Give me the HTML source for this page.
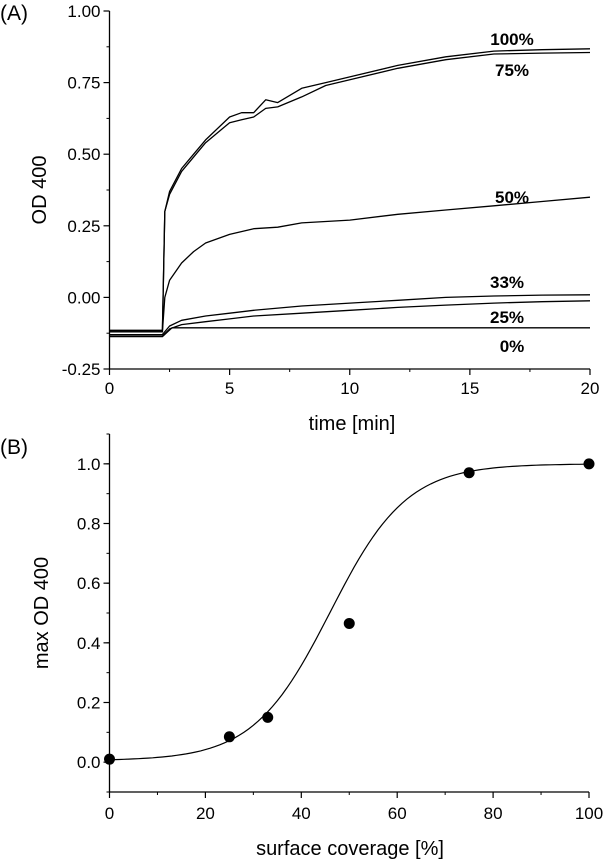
<!DOCTYPE html>
<html><head><meta charset="utf-8"><style>
html,body{margin:0;padding:0;background:#fff;}
svg{display:block;font-family:"Liberation Sans",Arial,sans-serif;}
</style></head><body>
<svg id="chart" width="605" height="860" viewBox="0 0 605 860">
<g id="pa"></g>
<g id="pb"></g>
</svg>
<script>
// Panel A data
const tA = [0, 2.2, 2.3, 2.5, 3, 3.5, 4, 5, 5.5, 6, 6.5, 7, 8, 9, 10, 12, 14, 16, 18, 20];
const s100 = [-0.115, -0.115, 0.30, 0.37, 0.45, 0.50, 0.55, 0.63, 0.645, 0.645, 0.69, 0.68, 0.73, 0.75, 0.77, 0.81, 0.84, 0.86, 0.865, 0.868];
const s75 = [-0.12, -0.12, 0.30, 0.36, 0.44, 0.49, 0.54, 0.61, 0.62, 0.63, 0.66, 0.665, 0.70, 0.74, 0.76, 0.80, 0.83, 0.85, 0.853, 0.855];
const t50 = [0, 2.2, 2.3, 2.5, 3, 3.5, 4, 5, 6, 7, 8, 9, 10, 12, 14, 16, 18, 20];
const s50 = [-0.12, -0.12, 0.0, 0.06, 0.12, 0.16, 0.19, 0.22, 0.24, 0.245, 0.26, 0.265, 0.27, 0.29, 0.305, 0.32, 0.335, 0.35];
const tLow = [0, 2.2, 2.5, 3, 4, 5, 6, 8, 10, 12, 14, 16, 18, 20];
const s33 = [-0.13, -0.13, -0.10, -0.08, -0.065, -0.055, -0.045, -0.03, -0.02, -0.01, 0.0, 0.005, 0.008, 0.009];
const s25 = [-0.135, -0.135, -0.11, -0.095, -0.085, -0.075, -0.065, -0.055, -0.045, -0.035, -0.027, -0.02, -0.015, -0.012];
const t0 = [0, 2.2, 2.6, 5, 10, 15, 20];
const s0 = [-0.137, -0.137, -0.106, -0.106, -0.106, -0.106, -0.106];
const labelsA = ["100%", "75%", "50%", "33%", "25%", "0%"];
const xTicksA = [0, 5, 10, 15, 20];
const yTicksA = [-0.25, 0, 0.25, 0.5, 0.75, 1.0];
const yTickLabelsA = ["-0.25", "0.00", "0.25", "0.50", "0.75", "1.00"];
// Panel B data
const coverage = [0, 25, 33, 50, 75, 100];
const maxOD = [0.01, 0.085, 0.15, 0.465, 0.97, 1.0];
const fitParams = [0.005, 1.0, 46, 8]; // A1, A2, x0, dx
const xTicksB = [0, 20, 40, 60, 80, 100];
const yTicksB = [0, 0.2, 0.4, 0.6, 0.8, 1.0];
const yTickLabelsB = ["0.0", "0.2", "0.4", "0.6", "0.8", "1.0"];

const NS = "http://www.w3.org/2000/svg";
function mk(parent, tag, attrs, text) {
  const e = document.createElementNS(NS, tag);
  for (const k in attrs) e.setAttribute(k, attrs[k]);
  if (text !== undefined) e.textContent = text;
  parent.appendChild(e);
  return e;
}
const TF = 17;
// Panel A axes
const axL = 109.5, axR = 590, ayT = 11, ayB = 369;
const xA = t => axL + (t / 20) * (axR - axL);
const yA = v => ayB - (v + 0.25) / 1.25 * (ayB - ayT);
const pa = document.getElementById("pa");
let e;
e = mk(pa, "path", {d: `M${axL},${ayT}V${ayB}H${axR}`, fill: "none", stroke: "#000", "stroke-width": 1.3});


for (let i = 0; i < xTicksA.length; i++) {
  const x = xA(xTicksA[i]);
  mk(pa, "line", {x1: x, x2: x, y1: ayB, y2: ayB + 6, stroke: "#000", "stroke-width": 1.2});
  e = mk(pa, "text", {x: x, y: ayB + 25, "text-anchor": "middle", "font-size": TF}, String(xTicksA[i]));
  
  
  if (i < xTicksA.length - 1) {
    const xm = xA(xTicksA[i] + 2.5);
    mk(pa, "line", {x1: xm, x2: xm, y1: ayB, y2: ayB + 3, stroke: "#000", "stroke-width": 1});
  }
}
for (let i = 0; i < yTicksA.length; i++) {
  const y = yA(yTicksA[i]);
  mk(pa, "line", {x1: axL - 6, x2: axL, y1: y, y2: y, stroke: "#000", "stroke-width": 1.2});
  e = mk(pa, "text", {x: axL - 9, y: y + 6, "text-anchor": "end", "font-size": TF}, yTickLabelsA[i]);
  
  
  if (i < yTicksA.length - 1) {
    const ym = yA(yTicksA[i] + 0.125);
    mk(pa, "line", {x1: axL - 3, x2: axL, y1: ym, y2: ym, stroke: "#000", "stroke-width": 1});
  }
}
e = mk(pa, "text", {x: 352, y: 430, "text-anchor": "middle", "font-size": 20}, "time [min]");


e = mk(pa, "text", {x: 0, y: 0, "text-anchor": "middle", "font-size": 20, transform: `translate(46,${yA(0.375)}) rotate(-90)`}, "OD 400");


e = mk(pa, "text", {x: 0, y: 20, "font-size": 21}, "(A)");


const seriesA = [[tA, s100], [tA, s75], [t50, s50], [tLow, s33], [tLow, s25], [t0, s0]];
const lblPos = [[512, 45], [512, 76], [512, 203], [507, 288], [507, 323], [512, 352]];
seriesA.forEach((s, k) => {
  const d = s[0].map((t, i) => (i ? "L" : "M") + xA(t).toFixed(1) + "," + yA(s[1][i]).toFixed(1)).join("");
  const p = mk(pa, "path", {d: d, fill: "none", stroke: "#000", "stroke-width": 1.3, "stroke-linejoin": "round"});
  
  
  const tx = mk(pa, "text", {x: lblPos[k][0], y: lblPos[k][1], "text-anchor": "middle", "font-size": 17, "font-weight": "bold"}, labelsA[k]);
  
  
});
// Panel B
const bxL = 109.5, bxR = 589, byT = 434, byB = 792;
const xB = v => bxL + v / 100 * (bxR - bxL);
const yB = v => byB - (v + 0.1) / 1.2 * (byB - byT);
const pb = document.getElementById("pb");
e = mk(pb, "path", {d: `M${bxL},${byT}V${byB}H${bxR}`, fill: "none", stroke: "#000", "stroke-width": 1.3});


for (let i = 0; i < xTicksB.length; i++) {
  const x = xB(xTicksB[i]);
  mk(pb, "line", {x1: x, x2: x, y1: byB, y2: byB + 6, stroke: "#000", "stroke-width": 1.2});
  e = mk(pb, "text", {x: x, y: byB + 27, "text-anchor": "middle", "font-size": TF}, String(xTicksB[i]));
  
  
  if (i < xTicksB.length - 1) {
    const xm = xB(xTicksB[i] + 10);
    mk(pb, "line", {x1: xm, x2: xm, y1: byB, y2: byB + 3, stroke: "#000", "stroke-width": 1});
  }
}
for (let v = -0.1; v < 1.15; v += 0.1) {
  const y = yB(v);
  mk(pb, "line", {x1: bxL - 3, x2: bxL, y1: y, y2: y, stroke: "#000", "stroke-width": 1});
}
for (let i = 0; i < yTicksB.length; i++) {
  const y = yB(yTicksB[i]);
  mk(pb, "line", {x1: bxL - 6, x2: bxL, y1: y, y2: y, stroke: "#000", "stroke-width": 1.2});
  e = mk(pb, "text", {x: bxL - 9, y: y + 6, "text-anchor": "end", "font-size": TF}, yTickLabelsB[i]);
  
  
}
e = mk(pb, "text", {x: 350, y: 855, "text-anchor": "middle", "font-size": 20}, "surface coverage [%]");


e = mk(pb, "text", {x: 0, y: 0, "text-anchor": "middle", "font-size": 20, transform: `translate(48,${yB(0.5)}) rotate(-90)`}, "max OD 400");


e = mk(pb, "text", {x: 0, y: 454, "font-size": 21}, "(B)");


const [A1, A2, x0, dx] = fitParams;
let fd = "";
for (let x = 0; x <= 100; x += 1) {
  const v = A2 + (A1 - A2) / (1 + Math.exp((x - x0) / dx));
  fd += (x ? "L" : "M") + xB(x).toFixed(1) + "," + yB(v).toFixed(1);
}
e = mk(pb, "path", {d: fd, fill: "none", stroke: "#000", "stroke-width": 1.2});


coverage.forEach((c, i) => {
  const pt = mk(pb, "circle", {cx: xB(c), cy: yB(maxOD[i]), r: 5.5, fill: "#000"});
  
  
});
</script>
</body></html>
